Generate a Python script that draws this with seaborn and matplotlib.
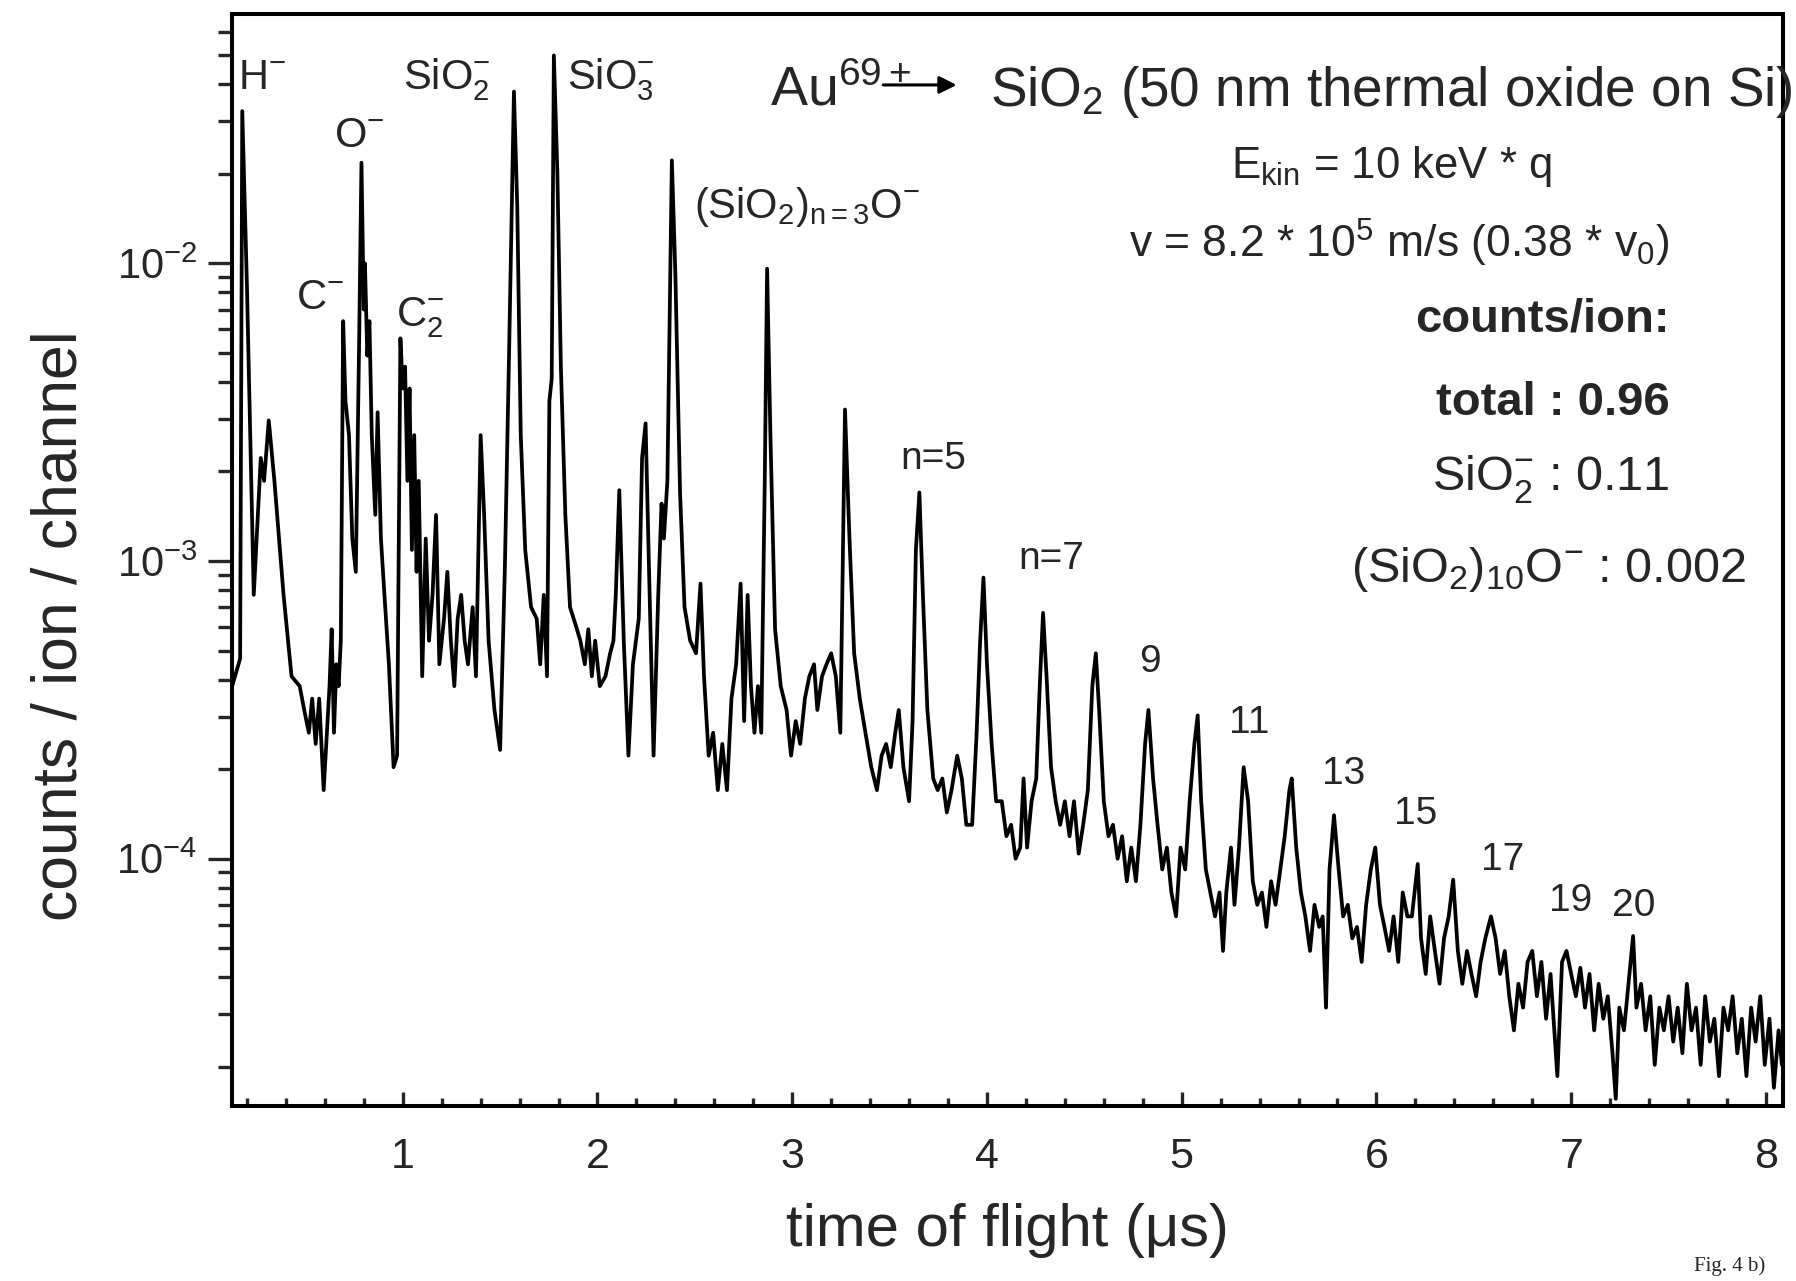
import numpy as np
import pandas as pd
import matplotlib
matplotlib.use("Agg")
import matplotlib.pyplot as plt
import matplotlib.ticker as mticker
import seaborn as sns

# time of flight (us) and counts / ion / channel
tof = [
    0.124, 0.165, 0.176, 0.200, 0.235, 0.271, 0.288, 0.312, 0.341, 0.388,
    0.429, 0.471, 0.494, 0.518, 0.535, 0.553, 0.571, 0.594, 0.624, 0.635,
    0.647, 0.659, 0.671, 0.682, 0.694, 0.706, 0.724, 0.741, 0.759, 0.776,
    0.788, 0.800, 0.806, 0.818, 0.829, 0.841, 0.859, 0.871, 0.888, 0.906,
    0.929, 0.953, 0.971, 0.988, 1.000, 1.012, 1.024, 1.035, 1.047, 1.059,
    1.071, 1.082, 1.100, 1.118, 1.135, 1.153, 1.171, 1.188, 1.212, 1.229,
    1.247, 1.265, 1.282, 1.300, 1.318, 1.335, 1.359, 1.376, 1.400, 1.418,
    1.441, 1.471, 1.500, 1.524, 1.547, 1.571, 1.588, 1.606, 1.629, 1.659,
    1.688, 1.706, 1.724, 1.741, 1.753, 1.765, 1.776, 1.794, 1.812, 1.835,
    1.859, 1.888, 1.912, 1.935, 1.953, 1.971, 1.988, 2.012, 2.041, 2.065,
    2.082, 2.094, 2.112, 2.135, 2.159, 2.182, 2.212, 2.229, 2.247, 2.265,
    2.288, 2.312, 2.329, 2.341, 2.359, 2.382, 2.400, 2.424, 2.447, 2.476,
    2.506, 2.529, 2.547, 2.571, 2.594, 2.618, 2.641, 2.665, 2.688, 2.712,
    2.735, 2.753, 2.771, 2.788, 2.806, 2.824, 2.841, 2.859, 2.871, 2.888,
    2.912, 2.941, 2.971, 2.994, 3.018, 3.041, 3.065, 3.088, 3.112, 3.129,
    3.153, 3.176, 3.200, 3.224, 3.247, 3.271, 3.294, 3.318, 3.347, 3.376,
    3.406, 3.435, 3.459, 3.482, 3.506, 3.529, 3.547, 3.571, 3.600, 3.618,
    3.635, 3.653, 3.671, 3.694, 3.724, 3.747, 3.771, 3.794, 3.818, 3.847,
    3.871, 3.894, 3.924, 3.947, 3.965, 3.982, 4.000, 4.024, 4.047, 4.076,
    4.100, 4.124, 4.147, 4.171, 4.188, 4.206, 4.229, 4.253, 4.271, 4.288,
    4.306, 4.329, 4.353, 4.376, 4.400, 4.424, 4.447, 4.471, 4.494, 4.518,
    4.541, 4.559, 4.576, 4.600, 4.624, 4.647, 4.671, 4.694, 4.718, 4.741,
    4.765, 4.788, 4.812, 4.829, 4.853, 4.876, 4.900, 4.924, 4.947, 4.971,
    4.994, 5.018, 5.041, 5.065, 5.082, 5.100, 5.124, 5.147, 5.171, 5.194,
    5.212, 5.229, 5.253, 5.271, 5.294, 5.318, 5.341, 5.365, 5.388, 5.412,
    5.435, 5.459, 5.482, 5.506, 5.529, 5.553, 5.565, 5.588, 5.612, 5.635,
    5.659, 5.682, 5.706, 5.724, 5.741, 5.759, 5.782, 5.806, 5.829, 5.853,
    5.876, 5.900, 5.924, 5.947, 5.971, 5.994, 6.018, 6.041, 6.065, 6.088,
    6.112, 6.135, 6.159, 6.182, 6.212, 6.229, 6.253, 6.276, 6.300, 6.324,
    6.347, 6.371, 6.394, 6.418, 6.441, 6.465, 6.488, 6.512, 6.535, 6.559,
    6.588, 6.612, 6.635, 6.659, 6.682, 6.706, 6.729, 6.753, 6.776, 6.800,
    6.824, 6.847, 6.871, 6.894, 6.929, 6.953, 6.976, 7.000, 7.024, 7.047,
    7.071, 7.094, 7.118, 7.141, 7.165, 7.188, 7.212, 7.229, 7.247, 7.271,
    7.294, 7.318, 7.335, 7.359, 7.382, 7.406, 7.429, 7.453, 7.476, 7.500,
    7.524, 7.547, 7.571, 7.594, 7.618, 7.641, 7.665, 7.688, 7.712, 7.735,
    7.759, 7.782, 7.806, 7.829, 7.853, 7.876, 7.900, 7.924, 7.947, 7.971,
    7.994, 8.018, 8.041, 8.065, 8.082,
]
counts = [
    3.8e-4, 4.7e-4, 3.25e-2, 8.4e-3, 7.7e-4, 2.22e-3, 1.86e-3, 2.97e-3, 1.86e-3, 7.7e-4,
    4.1e-4, 3.8e-4, 3.16e-4, 2.65e-4, 3.45e-4, 2.43e-4, 3.45e-4, 1.7e-4, 3.8e-4, 5.9e-4,
    2.65e-4, 4.5e-4, 3.8e-4, 5.4e-4, 6.4e-3, 3.45e-3, 2.65e-3, 1.19e-3, 9.2e-4, 5.4e-3,
    2.18e-2, 7.0e-3, 1.0e-2, 4.9e-3, 6.4e-3, 2.65e-3, 1.43e-3, 3.16e-3, 1.19e-3, 7.7e-4,
    4.5e-4, 2.03e-4, 2.22e-4, 5.6e-3, 3.8e-3, 4.5e-3, 1.86e-3, 3.8e-3, 1.09e-3, 2.65e-3,
    9.2e-4, 1.86e-3, 4.1e-4, 1.19e-3, 5.4e-4, 7.7e-4, 1.43e-3, 4.5e-4, 6.4e-4, 9.2e-4,
    5.4e-4, 3.8e-4, 6.4e-4, 7.7e-4, 5.4e-4, 4.5e-4, 7.0e-4, 4.1e-4, 2.65e-3, 1.43e-3,
    5.4e-4, 3.16e-4, 2.32e-4, 9.2e-4, 5.4e-3, 3.78e-2, 1.56e-2, 2.65e-3, 1.09e-3, 7.0e-4,
    6.4e-4, 4.5e-4, 7.7e-4, 4.1e-4, 3.45e-3, 4.1e-3, 5.0e-2, 2.03e-2, 4.5e-3, 1.43e-3,
    7.0e-4, 6.1e-4, 5.4e-4, 4.5e-4, 5.9e-4, 4.1e-4, 5.4e-4, 3.8e-4, 4.1e-4, 4.9e-4,
    5.4e-4, 7.7e-4, 1.73e-3, 5.4e-4, 2.22e-4, 4.5e-4, 6.4e-4, 2.22e-3, 2.9e-3, 9.2e-4,
    2.22e-4, 7.7e-4, 1.56e-3, 1.19e-3, 1.86e-3, 2.22e-2, 9.2e-3, 1.7e-3, 7.0e-4, 5.4e-4,
    4.9e-4, 8.4e-4, 4.1e-4, 2.22e-4, 2.65e-4, 1.7e-4, 2.43e-4, 1.7e-4, 3.45e-4, 4.5e-4,
    8.4e-4, 2.9e-4, 7.7e-4, 3.8e-4, 2.65e-4, 3.8e-4, 2.65e-4, 1.86e-3, 9.6e-3, 2.65e-3,
    5.9e-4, 3.8e-4, 3.16e-4, 2.22e-4, 2.9e-4, 2.43e-4, 3.45e-4, 4.1e-4, 4.5e-4, 3.16e-4,
    4.1e-4, 4.5e-4, 4.9e-4, 4.1e-4, 2.65e-4, 3.23e-3, 1.19e-3, 4.9e-4, 3.45e-4, 2.65e-4,
    2.03e-4, 1.7e-4, 2.22e-4, 2.43e-4, 2.03e-4, 2.65e-4, 3.16e-4, 2.03e-4, 1.56e-4, 2.9e-4,
    1.09e-3, 1.7e-3, 7.7e-4, 3.16e-4, 1.86e-4, 1.7e-4, 1.86e-4, 1.43e-4, 1.7e-4, 2.22e-4,
    1.86e-4, 1.3e-4, 1.3e-4, 2.65e-4, 5.4e-4, 8.8e-4, 4.5e-4, 2.43e-4, 1.56e-4, 1.56e-4,
    1.19e-4, 1.3e-4, 1.0e-4, 1.09e-4, 1.86e-4, 1.09e-4, 1.56e-4, 1.86e-4, 3.8e-4, 6.7e-4,
    4.1e-4, 2.03e-4, 1.56e-4, 1.3e-4, 1.56e-4, 1.19e-4, 1.56e-4, 1.04e-4, 1.3e-4, 1.7e-4,
    3.8e-4, 4.9e-4, 3.16e-4, 1.56e-4, 1.19e-4, 1.3e-4, 1.0e-4, 1.19e-4, 8.4e-5, 1.09e-4,
    8.4e-5, 1.3e-4, 2.43e-4, 3.16e-4, 1.86e-4, 1.3e-4, 9.2e-5, 1.09e-4, 7.7e-5, 6.4e-5,
    1.09e-4, 9.2e-5, 1.56e-4, 2.43e-4, 3.03e-4, 1.56e-4, 9.2e-5, 7.7e-5, 6.4e-5, 7.7e-5,
    4.9e-5, 7.7e-5, 1.09e-4, 7.0e-5, 1.09e-4, 2.03e-4, 1.56e-4, 8.4e-5, 7.0e-5, 7.7e-5,
    5.9e-5, 8.4e-5, 7.0e-5, 9.2e-5, 1.19e-4, 1.7e-4, 1.86e-4, 1.09e-4, 7.7e-5, 6.4e-5,
    4.9e-5, 7.0e-5, 5.9e-5, 6.4e-5, 3.16e-5, 9.2e-5, 1.4e-4, 9.2e-5, 6.4e-5, 7.0e-5,
    5.4e-5, 5.9e-5, 4.5e-5, 7.0e-5, 9.2e-5, 1.09e-4, 7.0e-5, 5.9e-5, 4.9e-5, 6.4e-5,
    4.5e-5, 7.7e-5, 6.4e-5, 6.4e-5, 9.6e-5, 5.4e-5, 4.1e-5, 6.4e-5, 4.9e-5, 3.8e-5,
    5.4e-5, 6.4e-5, 8.5e-5, 4.9e-5, 3.8e-5, 4.9e-5, 4.1e-5, 3.45e-5, 4.5e-5, 5.4e-5,
    6.4e-5, 5.4e-5, 4.1e-5, 4.9e-5, 3.45e-5, 2.65e-5, 3.8e-5, 3.16e-5, 4.5e-5, 4.9e-5,
    3.45e-5, 4.5e-5, 2.9e-5, 4.1e-5, 1.86e-5, 4.5e-5, 4.9e-5, 4.1e-5, 3.45e-5, 4.3e-5,
    3.16e-5, 4.1e-5, 2.65e-5, 3.8e-5, 2.9e-5, 3.45e-5, 2.22e-5, 1.56e-5, 3.16e-5, 2.65e-5,
    3.8e-5, 5.5e-5, 3.16e-5, 3.8e-5, 2.65e-5, 3.45e-5, 2.03e-5, 3.16e-5, 2.65e-5, 3.45e-5,
    2.43e-5, 3.16e-5, 2.22e-5, 3.8e-5, 2.65e-5, 3.16e-5, 2.03e-5, 3.45e-5, 2.43e-5, 2.9e-5,
    1.86e-5, 3.16e-5, 2.65e-5, 3.45e-5, 2.22e-5, 2.9e-5, 1.86e-5, 3.16e-5, 2.43e-5, 3.45e-5,
    2.03e-5, 2.9e-5, 1.7e-5, 2.65e-5, 2.03e-5,
]

# peak labels: text, x and y in axes fraction
peak_labels = ["H$^{-}$", "SiO$_2^{-}$", "SiO$_3^{-}$", "O$^{-}$", "C$^{-}$", "C$_2^{-}$",
               "(SiO$_2$)$_{n=3}$O$^{-}$"]
peak_x = [0.004, 0.110, 0.216, 0.066, 0.041, 0.106, 0.298]
peak_y = [0.931, 0.931, 0.931, 0.878, 0.730, 0.714, 0.813]

cluster_labels = ["n=5", "n=7", "9", "11", "13", "15", "17", "19", "20"]
cluster_x = [0.431, 0.507, 0.585, 0.643, 0.703, 0.749, 0.805, 0.849, 0.890]
cluster_y = [0.583, 0.492, 0.397, 0.342, 0.295, 0.258, 0.216, 0.179, 0.174]

sns.set_style("ticks")
plt.rcParams["font.family"] = ["Liberation Sans", "DejaVu Sans"]
plt.rcParams["mathtext.fontset"] = "custom"
plt.rcParams["mathtext.rm"] = "Liberation Sans"
plt.rcParams["mathtext.it"] = "Liberation Sans:italic"
plt.rcParams["mathtext.bf"] = "Liberation Sans:bold"
plt.rcParams["mathtext.default"] = "rm"

df = pd.DataFrame({"tof": tof, "counts": counts})

fig = plt.figure(figsize=(17.96, 12.81), dpi=100)
ax = fig.add_axes([0.1292, 0.1366, 0.8636, 0.8525])

sns.lineplot(data=df, x="tof", y="counts", ax=ax, color="black", linewidth=2.7,
             estimator=None, sort=False)

ax.set_yscale("log")
ax.set_xlim(0.1235, 8.088)
ax.set_ylim(1.476e-5, 0.0689)

ax.xaxis.set_major_locator(mticker.MultipleLocator(1))
ax.xaxis.set_minor_locator(mticker.MultipleLocator(0.2))
ax.xaxis.set_major_formatter(mticker.FormatStrFormatter("%d"))
ax.set_yticks([1e-4, 1e-3, 1e-2])
ax.set_yticklabels([r"10$^{-4}$", r"10$^{-3}$", r"10$^{-2}$"])
ax.yaxis.set_minor_locator(mticker.LogLocator(base=10, subs=np.arange(2, 10)))
ax.yaxis.set_minor_formatter(mticker.NullFormatter())

ax.tick_params(axis="x", which="major", direction="in", length=10, width=2.4,
               labelsize=31, pad=22, top=False)
ax.tick_params(axis="x", which="minor", direction="in", length=6, width=2.4, top=False)
ax.tick_params(axis="y", which="major", direction="out", length=17, width=2.4,
               labelsize=30, pad=8, right=False)
ax.tick_params(axis="y", which="minor", direction="out", length=10, width=2.4, right=False)

for side in ["left", "right", "top", "bottom"]:
    ax.spines[side].set_visible(True)
    ax.spines[side].set_linewidth(2.9)
    ax.spines[side].set_color("black")

ax.set_xlabel("time of flight (\u03bcs)", fontsize=43)
ax.set_ylabel("counts / ion / channel", fontsize=45)
ax.xaxis.set_label_coords(0.5, -0.089)
ax.yaxis.set_label_coords(-0.092, 0.44)

for lab, px, py in zip(peak_labels, peak_x, peak_y):
    ax.text(px, py, lab, transform=ax.transAxes, fontsize=30, ha="left", va="baseline")

for lab, px, py in zip(cluster_labels, cluster_x, cluster_y):
    ax.text(px, py, lab, transform=ax.transAxes, fontsize=28, ha="left", va="baseline")

# header
ax.text(0.347, 0.916, "Au$^{69+}$", transform=ax.transAxes, fontsize=40,
        ha="left", va="baseline")
ax.annotate("", xy=(0.469, 0.935), xytext=(0.418, 0.935), xycoords="axes fraction",
            arrowprops=dict(arrowstyle="-|>", color="black", lw=2.2, mutation_scale=26))
ax.text(0.489, 0.916, "SiO$_2$ (50 nm thermal oxide on Si)", transform=ax.transAxes,
        fontsize=39.5, ha="left", va="baseline")
ax.text(0.644, 0.850, "E$_{kin}$ = 10 keV * q", transform=ax.transAxes, fontsize=31.5,
        ha="left", va="baseline")
ax.text(0.578, 0.777, "v = 8.2 * 10$^5$ m/s (0.38 * v$_0$)", transform=ax.transAxes,
        fontsize=32, ha="left", va="baseline")
ax.text(0.927, 0.709, "counts/ion:", transform=ax.transAxes, fontsize=34,
        fontweight="bold", ha="right", va="baseline")
ax.text(0.927, 0.633, "total : 0.96", transform=ax.transAxes, fontsize=34,
        fontweight="bold", ha="right", va="baseline")
ax.text(0.927, 0.564, "SiO$_2^{-}$ : 0.11", transform=ax.transAxes, fontsize=35,
        ha="right", va="baseline")
ax.text(0.976, 0.480, "(SiO$_2$)$_{10}$O$^{-}$ : 0.002", transform=ax.transAxes,
        fontsize=35, ha="right", va="baseline")

fig.text(0.943, 0.004, "Fig. 4 b)", fontsize=15, family="Liberation Serif",
         ha="left", va="bottom")

fig.savefig("out.png", dpi=100)
